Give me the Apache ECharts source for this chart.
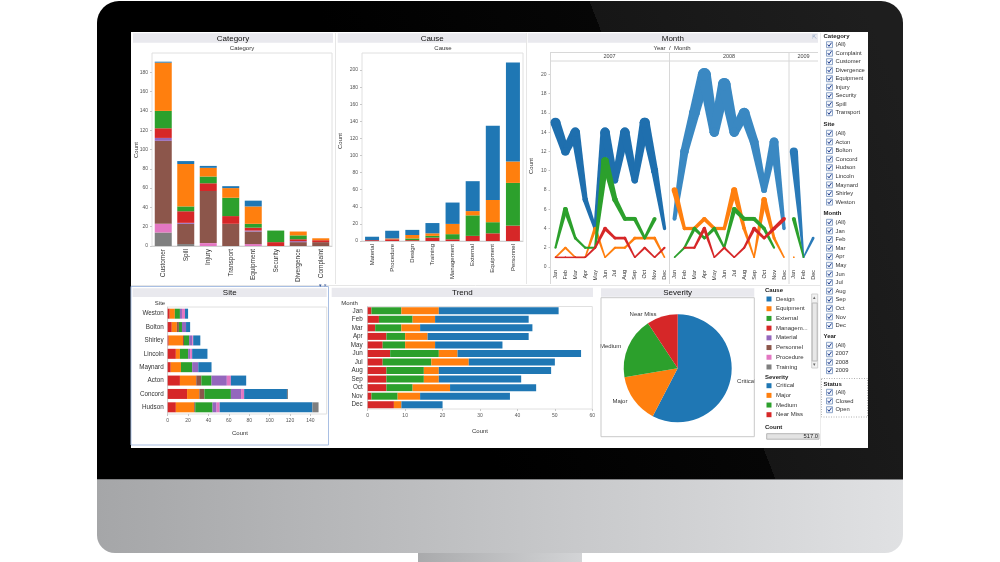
<!DOCTYPE html>
<html><head><meta charset="utf-8">
<script src="https://cdn.jsdelivr.net/npm/echarts@6/dist/echarts.min.js"></script>
<style>html,body{margin:0;padding:0;background:#fff}#c{width:1000px;height:562px}</style>
</head><body><div id="c"></div>
<script>
// ---------------- DATA ----------------
const categories = ['Customer','Spill','Injury','Transport','Equipment','Security','Divergence','Complaint'];
const causeNames = ['Design','Equipment','External','Managem...','Material','Personnel','Procedure','Training'];
// Category chart: count per category, split by cause
const catDesign     = [1,3,2,2,6,0,0,0];
const catEquipment  = [50,44,9,10,18,0,4,2];
const catExternal   = [18,5,7,19,4,12,4,0];
const catManagement = [10,12,8,8,3,4,2,2];
const catMaterial   = [3,1,0,0,1,0,1,0];
const catPersonnel  = [86,21,54,23,13,0,4,4];
const catProcedure  = [9,0,3,0,2,0,0,0];
const catTraining   = [14,2,0,0,0,0,0,0];

// Cause chart: count per cause, split by severity
const causeCats     = ['Material','Procedure','Design','Training','Management','External','Equipment','Personnel'];
const causeCritical = [4,9,6,12,25,35,87,116];
const causeMajor    = [0,1,4,3,12,5,26,25];
const causeMedium   = [0,0,2,2,6,24,13,50];
const causeNearMiss = [1,2,1,4,2,6,9,18];

// Month chart: count per month, per severity, per year
const monthLabels = ['Jan','Feb','Mar','Apr','May','Jun','Jul','Aug','Sep','Oct','Nov','Dec'];
const months2009  = ['Jan','Feb','Dec'];
const years = ['2007','2008','2009'];
const crit2007   = [15,12,14,7,4,14,9,14,9,15,10,4];
const major2007  = [1,2,1,1,4,1,2,2,3,3,3,1];
const medium2007 = [2,6,3,2,2,11,7,5,5,3,5,null];
const near2007   = [1,1,1,1,2,4,3,3,1,2,1,2];
const crit2008   = [5,12,16,20,14,19,14,16,13,8,13,4];
const major2008  = [8,4,4,5,4,4,8,4,1,7,3,1];
const medium2008 = [1,2,4,3,4,2,6,5,5,4,2,null];
const near2008   = [null,2,2,4,1,2,1,2,4,3,4,5];
const crit2009   = [12,1,3];
const major2009  = [1,null,null];
const medium2009 = [5,1,null];
const near2009   = [null,null,null];

// Site chart: count per site, split by cause
const sites          = ['Weston','Bolton','Shirley','Lincoln','Maynard','Acton','Concord','Hudson'];
const siteManagement = [2,4,1,8,3,12,19,8];
const siteEquipment  = [5,5,14,4,10,16,12,18];
const sitePersonnel  = [0,2,1,0,0,5,5,1];
const siteExternal   = [5,3,5,8,11,10,26,17];
const siteMaterial   = [2,4,3,2,6,15,10,4];
const siteProcedure  = [3,0,1,2,0,4,3,3];
const siteDesign     = [3,4,7,15,13,15,42,91];
const siteTraining   = [0,0,0,0,0,0,1,6];

// Trend chart: count per month, split by severity
const trendNearMiss = [1,3,2,5,4,6,4,5,5,5,1,7];
const trendMedium   = [8,9,7,5,6,13,13,10,10,7,7,0];
const trendMajor    = [10,6,5,6,8,5,10,4,4,10,6,2];
const trendCritical = [32,25,30,27,18,33,23,30,22,23,24,11];

// Severity pie
const severityNames  = ['Critical','Major','Medium','Near Miss'];
const severityCounts = [298,76,95,48];

// Filters
const filterCategory = ['(All)','Complaint','Customer','Divergence','Equipment','Injury','Security','Spill','Transport'];
const filterSite     = ['(All)','Acton','Bolton','Concord','Hudson','Lincoln','Maynard','Shirley','Weston'];
const filterMonth    = ['(All)','Jan','Feb','Mar','Apr','May','Jun','Jul','Aug','Sep','Oct','Nov','Dec'];
const filterYear     = ['(All)','2007','2008','2009'];
const filterStatus   = ['(All)','Closed','Open'];

// ---------------- STYLE ----------------
const C = {design:'#1f77b4',equipment:'#ff7f0e',external:'#2ca02c',management:'#d62728',material:'#9467bd',personnel:'#8c564b',procedure:'#e377c2',training:'#7f7f7f'};
const causeColors = [C.design,C.equipment,C.external,C.management,C.material,C.personnel,C.procedure,C.training];
const sevColors = ['#1f77b4','#ff7f0e','#2ca02c','#d62728'];
const FONT = '"Liberation Sans", Arial, sans-serif';

const T = (x, y, text, o={}) => ({type:'text', x, y, rotation:o.rot||0, z:50, silent:true,
  style:{text, fill:o.color||'#222', font:(o.weight||'normal')+' '+(o.size||6)+'px '+FONT,
         align:o.align||'left', verticalAlign:o.va||'middle', textAlign:o.align||'left', textVerticalAlign:o.va||'middle'}});
const R = (x,y,w,h,fill,stroke,z,extra={}) => ({type:'rect', z:z==null?1:z, silent:true, shape:Object.assign({x,y,width:w,height:h}, extra.shape||{}),
  style:Object.assign({fill:fill||'none', stroke:stroke||'none', lineWidth:1}, extra.style||{})});
const L = (x1,y1,x2,y2,stroke,w,dash) => ({type:'line', z:2, silent:true, shape:{x1,y1,x2,y2}, style:{stroke, lineWidth:w||1, lineDash:dash||null}});

const G = [];
// Monitor
G.push({type:'rect', z:-10, silent:true, shape:{x:97,y:1,width:806,height:479,r:[22,22,0,0]},
  style:{fill:new echarts.graphic.LinearGradient(443,332,921,146,[{offset:0,color:'#000'},{offset:0.5,color:'#060606'},{offset:0.5,color:'#161616'},{offset:1,color:'#1e1e1e'}],true)}});
G.push({type:'rect', z:-10, silent:true, shape:{x:97,y:479,width:806,height:74,r:[0,0,18,18]},
  style:{fill:new echarts.graphic.LinearGradient(0,0,1,0,[{offset:0,color:'#a5a6a8'},{offset:1,color:'#e0e1e3'}])}});
G.push({type:'line', z:-9, silent:true, shape:{x1:97,y1:479.5,x2:903,y2:479.5}, style:{stroke:'#808183',lineWidth:1}});
G.push({type:'rect', z:-10, silent:true, shape:{x:418,y:553,width:164,height:9},
  style:{fill:new echarts.graphic.LinearGradient(0,0,1,0,[{offset:0,color:'#a9aaac'},{offset:1,color:'#d3d4d6'}])}});
// Screen
G.push(R(131,32,737,416,'#fff',null,-9));

// Panel headers
const header = (x,y,w,h,title)=>{ G.push(R(x,y,w,h,'#e9e9ee',null,0)); G.push(T(x+w/2,y+h/2+0.3,title,{size:8,align:'center',color:'#111'})); };
header(133,33.3,200,9.4,'Category');
header(337.7,33.3,189,9.4,'Cause');
header(527.7,33.3,290.3,9.4,'Month');
header(132.7,288.3,194,8.7,'Site');
header(331.7,287.7,261.3,9.3,'Trend');
header(601,288.3,153.3,8.4,'Severity');
G.push(T(814,37.5,'⇱',{size:6,color:'#8aa0c0',align:'center'}));

// Panel separators
G.push(L(335.5,33,335.5,284,'#e6e6e6'));
G.push(L(526.5,33,526.5,284,'#e6e6e6'));
G.push(L(820.5,33,820.5,446,'#ececec'));
G.push(L(131,285.5,820,285.5,'#e6e6e6'));
// Site panel selected border
G.push(R(131,286.5,197.5,158.5,null,'#a9bfe3',3));
G.push(T(323,285.5,'▾ ×',{size:5,color:'#3a5a9a',align:'center'}));
// Severity panel border
G.push(R(601,297.7,153.3,139,null,'#c9c9c9',3));

// Sub titles / axis titles
G.push(T(242,48.3,'Category',{size:6,align:'center',color:'#333'}));
G.push(T(443,48.3,'Cause',{size:6,align:'center',color:'#333'}));
G.push(T(672,48.3,'Year  /  Month',{size:6,align:'center',color:'#333'}));
G.push(T(136.5,150,'Count',{size:6,align:'center',rot:Math.PI/2,color:'#333'}));
G.push(T(340.5,141,'Count',{size:6,align:'center',rot:Math.PI/2,color:'#333'}));
G.push(T(531.5,166,'Count',{size:6,align:'center',rot:Math.PI/2,color:'#333'}));
G.push(T(160,303.3,'Site',{size:6,align:'center',color:'#333'}));
G.push(T(349.5,303,'Month',{size:6,align:'center',color:'#333'}));
G.push(T(240,433.3,'Count',{size:6,align:'center',color:'#333'}));
G.push(T(480,431.7,'Count',{size:6,align:'center',color:'#333'}));

// Month facets frame
G.push(L(550,52.5,818,52.5,'#d8d8d8'));
G.push(L(550,61,818,61,'#d8d8d8'));
G.push(L(550.5,52,550.5,284,'#d8d8d8'));
G.push(L(669.5,52,669.5,284,'#d8d8d8'));
G.push(L(789,52,789,284,'#d8d8d8'));
G.push(T(609.5,56.8,years[0],{size:5.5,align:'center',color:'#444'}));
G.push(T(729,56.8,years[1],{size:5.5,align:'center',color:'#444'}));
G.push(T(803.5,56.8,years[2],{size:5.5,align:'center',color:'#444'}));

// Filters
const checkbox=(x,y)=>{ G.push(R(x,y-3,6,6,'#f3f6fb','#8ea6c9',4)); G.push({type:'polyline', z:5, silent:true, shape:{points:[[x+1.2,y-0.2],[x+2.5,y+1.6],[x+5,y-2]]}, style:{stroke:'#1d3b8c',lineWidth:1,fill:'none'}}); };
const filterBlock=(title,items,y0,step,hy)=>{ G.push(T(823.5,hy,title,{size:6,weight:'bold',color:'#222'}));
  items.forEach((it,i)=>{ const y=y0+i*step; checkbox(826.5,y); G.push(T(835.5,y,it,{size:5.8,color:'#333'})); }); };
filterBlock('Category',filterCategory,44.7,8.5,36);
filterBlock('Site',filterSite,133.3,8.6,124.7);
filterBlock('Month',filterMonth,222.3,8.6,213.7);
filterBlock('Year',filterYear,345.3,8.45,336.7);
filterBlock('Status',filterStatus,392.3,8.7,384);
G.push(R(821.5,378.5,46,38.5,null,'#b0b0b0',3,{style:{lineDash:[1,1.5]}}));

// Legends
G.push(T(765,290,'Cause',{size:6,weight:'bold',color:'#222'}));
causeNames.forEach((n,i)=>{ const y=299+i*9.71; G.push(R(766.5,y-2.5,5,5,causeColors[i],null,4)); G.push(T(776,y,n,{size:6,color:'#333'})); });
G.push(R(811.7,294,6,74,'#f2f2f2','#d0d0d0',3));
G.push(R(812.2,303,5,58,'#e8e8e8','#b8b8b8',4));
G.push(T(814.7,297.5,'▴',{size:5,align:'center',color:'#666'}));
G.push(T(814.7,365,'▾',{size:5,align:'center',color:'#666'}));
G.push(T(765,377.3,'Severity',{size:6,weight:'bold',color:'#222'}));
severityNames.forEach((n,i)=>{ const y=385.7+i*9.67; G.push(R(766.5,y-2.5,5,5,sevColors[i],null,4)); G.push(T(776,y,n,{size:6,color:'#333'})); });
G.push(T(765,427.7,'Count',{size:6,weight:'bold',color:'#222'}));
G.push(R(766.7,433.7,52.3,5.5,'#e3e3e3','#b5b5b5',3));
G.push(T(818,436.6,severityCounts.reduce((a,b)=>a+b,0).toFixed(1),{size:5.8,align:'right',color:'#222'}));

// ---------------- CHARTS ----------------
const tickLabel = {fontSize:5,color:'#555',fontFamily:FONT};
const catLabel  = {fontSize:6.3,color:'#333',fontFamily:FONT};
const grids = [
  {left:152,top:53,width:180,height:193},
  {left:362,top:53,width:161,height:188},
  {left:550.5,top:61,width:119,height:206},
  {left:669.5,top:61,width:119.5,height:206},
  {left:789,top:61,width:29,height:206},
  {left:167.7,top:307,width:159,height:107},
  {left:367.7,top:306.5,width:224.6,height:102.5}
].map((g,i)=>Object.assign({outerBoundsMode:'none',containLabel:false,show:(i<2||i>4),borderColor:'#e0e0e0',borderWidth:1,backgroundColor:'transparent'},g));

const catX = (data,gi,rot,size)=>({type:'category',gridIndex:gi,data,axisTick:{show:false},
  axisLine:{show:true,lineStyle:{color:'#d0d0d0'}},
  axisLabel:Object.assign({},catLabel,{rotate:rot,interval:0,margin:3,fontSize:size||6.3})});
const valY = (gi,max,interval,showLabel)=>({type:'value',gridIndex:gi,min:0,max,interval,splitLine:{show:false},
  axisLine:{show:false},axisTick:{show:showLabel,length:2,lineStyle:{color:'#c8c8c8'}},
  axisLabel:Object.assign({},tickLabel,{show:showLabel,showMaxLabel:false,margin:4})});

const xAxis = [
  catX(categories,0,90,6.5),
  catX(causeCats,1,90,6),
  Object.assign(catX(monthLabels,2,90,5.5),{axisLine:{show:false}}),
  Object.assign(catX(monthLabels,3,90,5.5),{axisLine:{show:false}}),
  Object.assign(catX(months2009,4,90,5.5),{axisLine:{show:false}}),
  {type:'value',gridIndex:5,min:0,max:156,interval:20,splitLine:{show:false},axisLine:{show:false},
   axisTick:{show:true,length:2,lineStyle:{color:'#c8c8c8'}},axisLabel:Object.assign({},tickLabel,{showMaxLabel:false,margin:4})},
  {type:'value',gridIndex:6,min:0,max:60,interval:10,splitLine:{show:false},axisLine:{show:false},
   axisTick:{show:true,length:2,lineStyle:{color:'#c8c8c8'}},axisLabel:Object.assign({},tickLabel,{margin:4})}
];
const yAxis = [
  valY(0,200,20,true),
  valY(1,220,20,true),
  valY(2,21.4,2,true),
  valY(3,21.4,2,false),
  valY(4,21.4,2,false),
  {type:'category',gridIndex:5,data:sites,inverse:true,axisTick:{show:false},axisLine:{show:true,lineStyle:{color:'#d0d0d0'}},
   axisLabel:Object.assign({},catLabel,{margin:4})},
  {type:'category',gridIndex:6,data:monthLabels,inverse:true,axisTick:{show:false},axisLine:{show:true,lineStyle:{color:'#d0d0d0'}},
   axisLabel:Object.assign({},catLabel,{margin:5})}
];

const series = [];
const bar = (name,data,color,stack,xi,yi,w)=>series.push({type:'bar',name,data,stack,xAxisIndex:xi,yAxisIndex:yi,barWidth:w,
  itemStyle:{color},emphasis:{disabled:true},silent:true,z:3});
// Category (bottom to top)
[[catTraining,C.training],[catProcedure,C.procedure],[catPersonnel,C.personnel],[catMaterial,C.material],
 [catManagement,C.management],[catExternal,C.external],[catEquipment,C.equipment],[catDesign,C.design]]
 .forEach(([d,c],i)=>bar('c'+i,d,c,'cat',0,0,17));
// Cause
[[causeNearMiss,sevColors[3]],[causeMedium,sevColors[2]],[causeMajor,sevColors[1]],[causeCritical,sevColors[0]]]
 .forEach(([d,c],i)=>bar('s'+i,d,c,'cause',1,1,14));
// Site
[[siteManagement,C.management],[siteEquipment,C.equipment],[sitePersonnel,C.personnel],[siteExternal,C.external],
 [siteMaterial,C.material],[siteProcedure,C.procedure],[siteDesign,C.design],[siteTraining,C.training]]
 .forEach(([d,c],i)=>bar('t'+i,d,c,'site',5,5,10));
// Trend
[[trendNearMiss,sevColors[3]],[trendMedium,sevColors[2]],[trendMajor,sevColors[1]],[trendCritical,sevColors[0]]]
 .forEach(([d,c],i)=>bar('m'+i,d,c,'trend',6,6,7));

// Month variable-width lines
function segs(arr){ const out=[]; for(let i=0;i<arr.length;i++){ if(arr[i]==null) continue;
  if(i+1<arr.length && arr[i+1]!=null) out.push([i,arr[i],i+1,arr[i+1]]);
  else if(i===0||arr[i-1]==null) out.push([i,arr[i],i,arr[i]]); } return out; }
const wOf = v => 0.9 + 0.6*v;
function renderSeg(params, api){
  const x0=api.value(0), v0=api.value(1), x1=api.value(2), v1=api.value(3);
  const p0=api.coord([x0,v0]), p1=api.coord([x1,v1]);
  const w0=wOf(v0), w1=wOf(v1); const color=api.visual('color');
  const dx=p1[0]-p0[0], dy=p1[1]-p0[1]; const len=Math.hypot(dx,dy);
  const ch=[];
  if(len>0.5){ const nx=-dy/len, ny=dx/len;
    ch.push({type:'polygon',shape:{points:[[p0[0]+nx*w0/2,p0[1]+ny*w0/2],[p1[0]+nx*w1/2,p1[1]+ny*w1/2],[p1[0]-nx*w1/2,p1[1]-ny*w1/2],[p0[0]-nx*w0/2,p0[1]-ny*w0/2]]},style:{fill:color}}); }
  ch.push({type:'circle',shape:{cx:p0[0],cy:p0[1],r:w0/2},style:{fill:color}});
  ch.push({type:'circle',shape:{cx:p1[0],cy:p1[1],r:w1/2},style:{fill:color}});
  return {type:'group',children:ch};
}
const monthSets = [
  [crit2007,major2007,medium2007,near2007,'#1f6fae'],
  [crit2008,major2008,medium2008,near2008,'#3a88c2'],
  [crit2009,major2009,medium2009,near2009,'#2a7ab8']
];
monthSets.forEach((set,yi)=>{
  for(let s=0;s<4;s++){
    series.push({type:'custom',xAxisIndex:2+yi,yAxisIndex:2+yi,renderItem:renderSeg,data:segs(set[s]),
      encode:{x:[0,2],y:[1,3]},itemStyle:{color:s===0?set[4]:sevColors[s]},silent:true,clip:false,z:4+s});
  }
});

// Pie
series.push({type:'pie',center:[677.7,368.3],radius:54,startAngle:90,clockwise:true,silent:true,
  data:severityNames.map((n,i)=>({name:n,value:severityCounts[i],itemStyle:{color:sevColors[i]}})),
  label:{show:true,position:'outside',fontSize:6,color:'#333',fontFamily:FONT},
  labelLine:{show:false,length:2,length2:0},emphasis:{disabled:true},itemStyle:{borderWidth:0}});

const chart = echarts.init(document.getElementById('c'), null, {renderer:'canvas',width:1000,height:562});
chart.setOption({animation:false,backgroundColor:'#fff',textStyle:{fontFamily:FONT},
  grid:grids,xAxis,yAxis,series,graphic:{elements:G}});
</script></body></html>
